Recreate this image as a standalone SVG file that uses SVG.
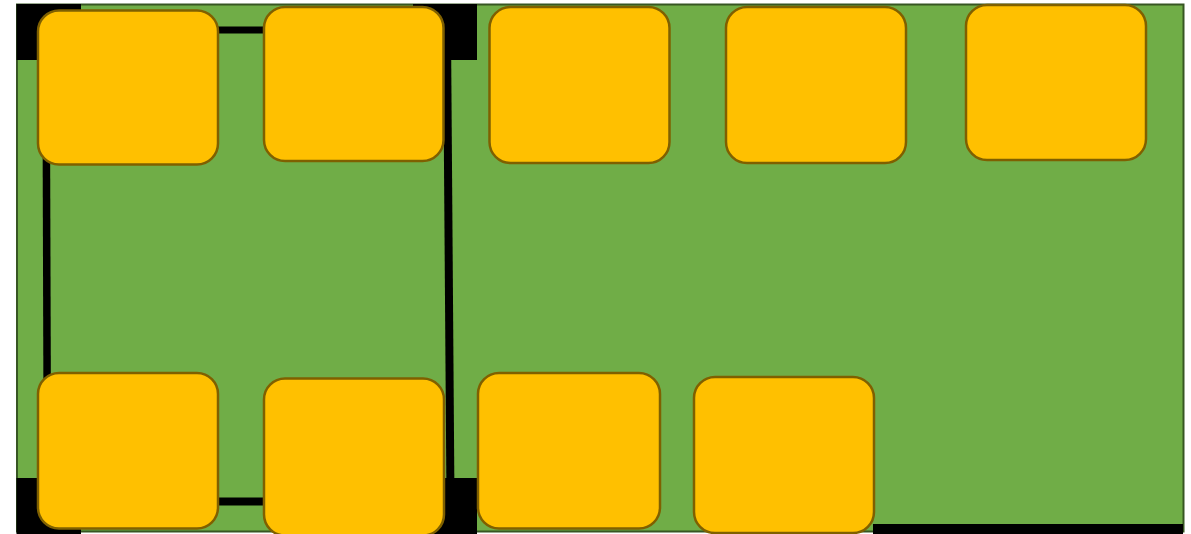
<svg xmlns="http://www.w3.org/2000/svg" width="1191" height="534" viewBox="0 0 1191 534">
<style>
.node{fill:#FFC000;stroke:#7F6000;stroke-width:2.5}
.corner{fill:#000000}
.wire{stroke:#000000;fill:none}
</style>
<rect x="0" y="0" width="1191" height="534" fill="#ffffff"/>
<g id="background">
<rect x="17" y="4.5" width="1166.5" height="527" fill="#70AD47" stroke="#375623" stroke-width="2"/>
<rect class="corner" x="16.5" y="4" width="64.5" height="56"/>
<rect class="corner" x="413" y="4" width="64" height="56"/>
<rect class="corner" x="16.5" y="478" width="64.5" height="56"/>
<rect class="corner" x="413" y="478" width="64" height="56"/>
<rect class="corner" x="873" y="524" width="310" height="10"/>
</g>
<g id="connectors">
<line class="wire" x1="46" y1="30" x2="447" y2="30" stroke-width="7"/>
<line class="wire" x1="46" y1="30" x2="47.5" y2="501.5" stroke-width="7.5"/>
<line class="wire" x1="447" y1="30" x2="450.5" y2="501.5" stroke-width="8"/>
<line class="wire" x1="47.5" y1="501.5" x2="450.5" y2="501.5" stroke-width="8"/>
</g>
<g id="n1"><rect class="node" x="38" y="10.5" width="180" height="154" rx="21"/></g>
<g id="n2"><rect class="node" x="264" y="7" width="179.5" height="154" rx="21"/></g>
<g id="n3"><rect class="node" x="489.5" y="7" width="180" height="156" rx="21"/></g>
<g id="n4"><rect class="node" x="726" y="7" width="180" height="156" rx="21"/></g>
<g id="n5"><rect class="node" x="966" y="5" width="180" height="155" rx="21"/></g>
<g id="n6"><rect class="node" x="38" y="373" width="180" height="155.5" rx="21"/></g>
<g id="n7"><rect class="node" x="264" y="378.5" width="180" height="157" rx="21"/></g>
<g id="n8"><rect class="node" x="478" y="373" width="182" height="155.5" rx="21"/></g>
<g id="n9"><rect class="node" x="694" y="377" width="180" height="156" rx="21"/></g>
</svg>
